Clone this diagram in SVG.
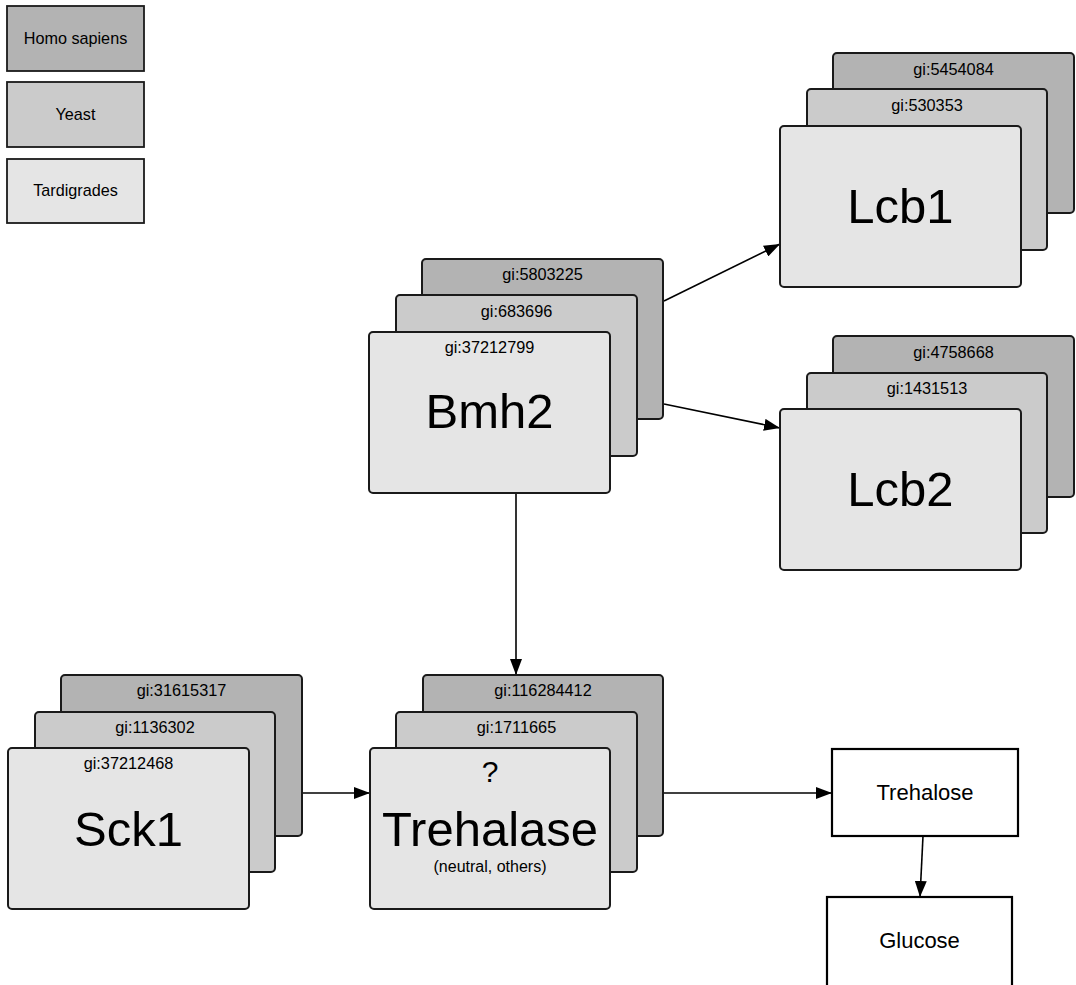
<svg xmlns="http://www.w3.org/2000/svg" width="1076" height="985" viewBox="0 0 1076 985">
  <style>
    text { font-family: "Liberation Sans", Arial, sans-serif; fill: #000; }
    .card { stroke: #1a1a1a; stroke-width: 2; }
    .hs { fill: #b3b3b3; }
    .ye { fill: #cbcbcb; }
    .ta { fill: #e5e5e5; }
    .legend { stroke: #1a1a1a; stroke-width: 1.8; }
    .plain { fill: #ffffff; stroke: #000; stroke-width: 2.2; }
    .gi { font-size: 16.3px; text-anchor: middle; }
    .big { font-size: 49px; text-anchor: middle; }
    .lbl { font-size: 16.2px; text-anchor: middle; }
    .mid { font-size: 22px; text-anchor: middle; }
    .edge { fill: none; stroke: #000; stroke-width: 1.6; marker-end: url(#arrow); }
  </style>
  <defs>
    <marker id="arrow" viewBox="0 0 16 12" refX="16" refY="6" markerWidth="16" markerHeight="12" markerUnits="userSpaceOnUse" orient="auto">
      <path d="M0,0 L16,6 L0,12 Z" fill="#000"/>
    </marker>
  </defs>

  <rect width="1076" height="985" fill="#ffffff"/>

  <!-- legend -->
  <g id="legend">
    <rect class="legend hs" x="7" y="6" width="137" height="65"/>
    <text class="lbl" x="75.5" y="44">Homo sapiens</text>
    <rect class="legend ye" x="7" y="82" width="137" height="65"/>
    <text class="lbl" x="75.5" y="120">Yeast</text>
    <rect class="legend ta" x="7" y="159" width="137" height="64"/>
    <text class="lbl" x="75.5" y="196">Tardigrades</text>
  </g>

  <!-- connectors -->
  <g id="connectors">
    <line class="edge" x1="664" y1="301" x2="780" y2="244"/>
    <line class="edge" x1="664" y1="404" x2="780" y2="428"/>
    <line class="edge" x1="516" y1="493" x2="516" y2="675"/>
    <line class="edge" x1="302" y1="793" x2="370" y2="793"/>
    <line class="edge" x1="663" y1="793" x2="832" y2="793"/>
    <line class="edge" x1="923" y1="836" x2="920" y2="897"/>
  </g>

  <!-- Bmh2 -->
  <g id="bmh2">
    <rect class="card hs" x="422" y="259" width="241" height="160" rx="4"/>
    <text class="gi" x="542.5" y="280">gi:5803225</text>
    <rect class="card ye" x="396" y="295" width="241" height="161" rx="4"/>
    <text class="gi" x="516.5" y="317">gi:683696</text>
    <rect class="card ta" x="369" y="332" width="241" height="161" rx="4"/>
    <text class="gi" x="489.5" y="353">gi:37212799</text>
    <text class="big" x="489.5" y="428">Bmh2</text>
  </g>

  <!-- Lcb1 -->
  <g id="lcb1">
    <rect class="card hs" x="833" y="53" width="241" height="160" rx="4"/>
    <text class="gi" x="953.5" y="75">gi:5454084</text>
    <rect class="card ye" x="807" y="89" width="240" height="161" rx="4"/>
    <text class="gi" x="927" y="111">gi:530353</text>
    <rect class="card ta" x="780" y="126" width="241" height="161" rx="4"/>
    <text class="big" x="900.5" y="223">Lcb1</text>
  </g>

  <!-- Lcb2 -->
  <g id="lcb2">
    <rect class="card hs" x="833" y="336" width="241" height="161" rx="4"/>
    <text class="gi" x="953.5" y="358">gi:4758668</text>
    <rect class="card ye" x="807" y="373" width="240" height="160" rx="4"/>
    <text class="gi" x="927" y="394">gi:1431513</text>
    <rect class="card ta" x="780" y="409" width="241" height="161" rx="4"/>
    <text class="big" x="900.5" y="506">Lcb2</text>
  </g>

  <!-- Sck1 -->
  <g id="sck1">
    <rect class="card hs" x="61" y="675" width="241" height="161" rx="4"/>
    <text class="gi" x="181.5" y="696">gi:31615317</text>
    <rect class="card ye" x="35" y="712" width="240" height="160" rx="4"/>
    <text class="gi" x="155" y="733">gi:1136302</text>
    <rect class="card ta" x="8" y="748" width="241" height="161" rx="4"/>
    <text class="gi" x="128.5" y="769">gi:37212468</text>
    <text class="big" x="128.5" y="846">Sck1</text>
  </g>

  <!-- Trehalase -->
  <g id="trehalase">
    <rect class="card hs" x="423" y="675" width="240" height="161" rx="4"/>
    <text class="gi" x="543" y="696">gi:116284412</text>
    <rect class="card ye" x="396" y="712" width="241" height="160" rx="4"/>
    <text class="gi" x="516.5" y="733">gi:1711665</text>
    <rect class="card ta" x="370" y="748" width="240" height="161" rx="4"/>
    <text x="490" y="782" style="font-size:30px;text-anchor:middle">?</text>
    <text class="big" x="490" y="846">Trehalase</text>
    <text x="490" y="872" style="font-size:16px;text-anchor:middle">(neutral, others)</text>
  </g>

  <!-- Trehalose -->
  <g id="trehalose">
    <rect class="plain" x="832" y="749" width="186" height="87"/>
    <text class="mid" x="925" y="800">Trehalose</text>
  </g>

  <!-- Glucose -->
  <g id="glucose">
    <rect class="plain" x="827" y="897" width="185" height="95"/>
    <text class="mid" x="919.5" y="948">Glucose</text>
  </g>
</svg>
